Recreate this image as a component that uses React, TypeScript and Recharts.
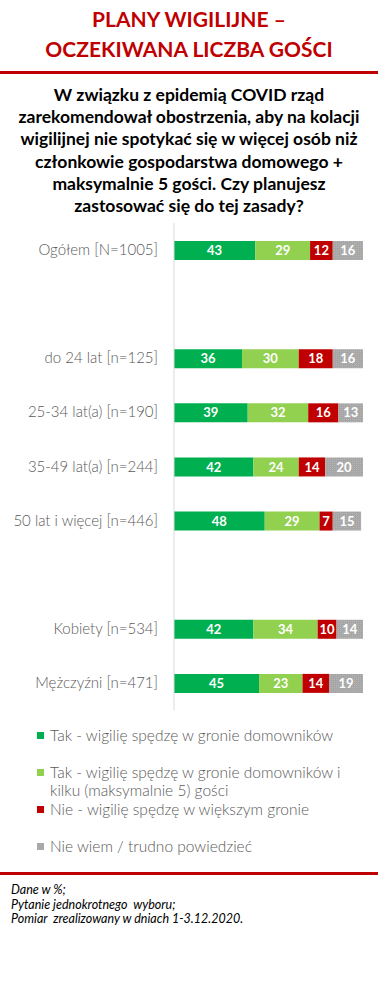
import React from 'react';
import { BarChart, Bar, XAxis, YAxis, LabelList } from 'recharts';

// categories (blank strings = empty spacer rows)
const categories = [
  'Ogółem [N=1005]',
  ' ',
  'do 24 lat [n=125]',
  '25-34 lat(a) [n=190]',
  '35-49 lat(a) [n=244]',
  '50 lat i więcej [n=446]',
  '  ',
  'Kobiety [n=534]',
  'Mężczyźni [n=471]',
];

const takDomownicy = [43, null, 36, 39, 42, 48, null, 42, 45];
const takGoscie = [29, null, 30, 32, 24, 29, null, 34, 23];
const nieWieksze = [12, null, 18, 16, 14, 7, null, 10, 14];
const nieWiem = [16, null, 16, 13, 20, 15, null, 14, 19];

const seriesNames = [
  'Tak - wigilię spędzę w gronie domowników',
  'Tak - wigilię spędzę w gronie domowników i kilku (maksymalnie 5) gości',
  'Nie - wigilię spędzę w większym gronie',
  'Nie wiem / trudno powiedzieć',
];

const titleLines = ['PLANY WIGILIJNE –', 'OCZEKIWANA LICZBA GOŚCI'];
const questionLines = [
  'W związku z epidemią COVID rząd',
  'zarekomendował obostrzenia, aby na kolacji',
  'wigilijnej nie spotykać się w więcej osób niż',
  'członkowie gospodarstwa domowego +',
  'maksymalnie 5 gości. Czy planujesz',
  'zastosować się do tej zasady?',
];
const notes = ['Dane w %;', 'Pytanie jednokrotnego  wyboru;', 'Pomiar  zrealizowany w dniach 1-3.12.2020.'];

const RED = '#C00000';
const FONT = 'Lato, "Open Sans", sans-serif';

const series = [
  { key: 'a', name: seriesNames[0], fill: '#00B050', swatch: '#00B050' },
  { key: 'b', name: seriesNames[1], fill: '#92D050', swatch: '#92D050' },
  { key: 'c', name: seriesNames[2], fill: RED, swatch: RED },
  { key: 'd', name: seriesNames[3], fill: 'url(#dots)', swatch: '#A9A9A9' },
];

const data = categories.map((name, i) => ({
  name,
  a: takDomownicy[i],
  b: takGoscie[i],
  c: nieWieksze[i],
  d: nieWiem[i],
}));

const CategoryTick = (props: any) => {
  const { x, y, payload } = props;
  return (
    <text x={x} y={y} dy={5} textAnchor="end" fill="#595959" fontSize={15} fontFamily={FONT} fontWeight={300}>
      {payload.value}
    </text>
  );
};

export default function App() {
  return (
    <div style={{ position: 'absolute', top: 0, left: 0, width: 378, height: 983, background: '#fff', fontFamily: FONT }}>
      {titleLines.map((t, i) => (
        <div
          key={t}
          style={{
            position: 'absolute', left: 0, width: 378, top: 6 + i * 30, textAlign: 'center',
            color: RED, fontWeight: 700, fontSize: 21, lineHeight: '26px',
          }}
        >
          {t}
        </div>
      ))}
      <div style={{ position: 'absolute', left: 0, top: 71, width: 378, height: 3, background: RED }} />

      {questionLines.map((t, i) => (
        <div
          key={t}
          style={{
            position: 'absolute', left: 0, width: 378, top: 84 + i * 22.2, textAlign: 'center',
            color: '#000', fontWeight: 700, fontSize: 17.5, lineHeight: '22px', whiteSpace: 'nowrap',
          }}
        >
          {t}
        </div>
      ))}

      <div style={{ position: 'absolute', left: 0, top: 223 }}>
        <BarChart
          width={378}
          height={487}
          data={data}
          layout="vertical"
          barSize={19}
          margin={{ top: 0, right: 15, bottom: 0, left: 0 }}
        >
          <defs>
            <pattern id="dots" width="2" height="2" patternUnits="userSpaceOnUse">
              <rect width="2" height="2" fill="#A6A6A6" />
              <rect width="1" height="1" fill="#B4B4B4" />
            </pattern>
          </defs>
          <XAxis type="number" domain={[0, 100]} hide allowDataOverflow />
          <YAxis
            type="category"
            dataKey="name"
            width={174}
            axisLine={{ stroke: '#D9D9D9' }}
            tickLine={false}
            tickSize={0}
            tickMargin={16}
            tick={<CategoryTick />}
            interval={0}
          />
          {series.map((s) => (
            <Bar key={s.key} dataKey={s.key} name={s.name} stackId="s" fill={s.fill} isAnimationActive={false}>
              <LabelList
                dataKey={s.key}
                position="center"
                fill="#fff"
                fontSize={13}
                fontWeight={700}
                fontFamily={FONT}
              />
            </Bar>
          ))}
        </BarChart>
      </div>

      {/* legend */}
      {series.map((s, i) => (
        <div
          key={s.key}
          style={{
            position: 'absolute', left: 37, top: 726 + i * 37, width: 310,
            display: 'flex', alignItems: 'flex-start', color: '#595959', fontSize: 15.5, fontWeight: 300, lineHeight: '18px',
          }}
        >
          <span style={{ display: 'inline-block', width: 7, height: 7, background: s.swatch, marginTop: 6, marginRight: 6, flex: 'none' }} />
          <span>{s.name}</span>
        </div>
      ))}

      <div style={{ position: 'absolute', left: 0, top: 872, width: 378, height: 3, background: RED }} />
      {notes.map((t, i) => (
        <div
          key={t}
          style={{
            position: 'absolute', left: 11, top: 882 + i * 14.5, color: '#000', fontStyle: 'italic',
            fontSize: 12.5, fontWeight: 400, lineHeight: '15px', whiteSpace: 'pre',
          }}
        >
          {t}
        </div>
      ))}
    </div>
  );
}
